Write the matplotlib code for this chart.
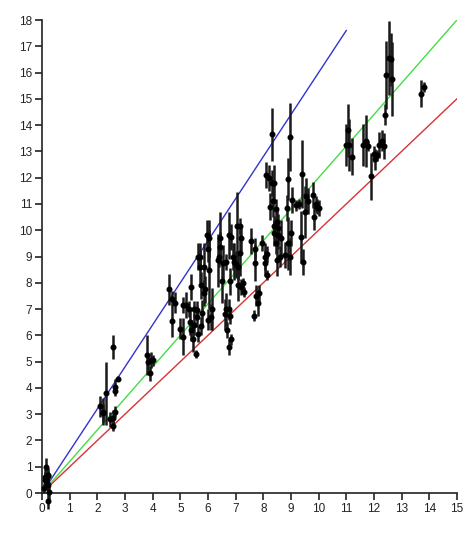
import matplotlib
matplotlib.use('Agg')
import matplotlib.pyplot as plt
import numpy as np

# measured points: x, y, y error (half length)
x_pts = [0.10, 0.15, 0.12, 0.20, 0.18, 0.22, 0.08, 0.25, 0.20, 0.15, 0.22,
         2.10, 2.20, 2.30, 2.45, 2.55, 2.55, 2.55, 2.65, 2.65, 2.65, 2.75, 2.20,
         3.80, 3.85, 3.90, 3.95, 4.00,
         4.60, 4.70, 4.70, 4.80,
         5.00, 5.10, 5.10, 5.20, 5.30, 5.35, 5.40, 5.40, 5.45, 5.50, 5.50, 5.55,
         5.60, 5.60, 5.65, 5.70, 5.70, 5.75, 5.75, 5.80, 5.85, 5.85, 5.90, 5.95,
         6.00, 6.05, 6.05, 6.00, 6.10, 6.15, 5.65,
         6.35, 6.40, 6.45, 6.45, 6.50, 6.55, 6.60, 6.65, 6.65, 6.70, 6.75, 6.75,
         6.75, 6.80, 6.80, 6.85, 6.85, 6.90, 6.95, 7.00, 7.05, 7.10, 7.15, 7.10,
         7.15, 7.20, 7.20, 7.25, 7.30,
         7.55, 7.65, 7.70, 7.70, 7.75, 7.80, 7.85, 7.95, 8.05, 8.05, 8.10, 8.15, 8.15,
         8.20, 8.25, 8.30, 8.30, 8.35, 8.40, 8.40, 8.45, 8.45, 8.50, 8.50, 8.55,
         8.60, 8.65, 8.40, 8.55,
         8.80, 8.85, 8.90, 8.95, 8.90, 8.95, 9.00, 9.05, 9.20, 9.30, 9.35, 9.40,
         9.45, 9.50, 9.55, 9.60,
         9.80, 9.85, 9.90, 9.95, 10.00,
         11.00, 11.05, 11.10, 11.20,
         11.60, 11.70, 11.80, 11.90, 12.00, 12.05, 12.10, 12.20, 12.30, 12.35,
         12.40, 12.45, 12.55, 12.60, 12.65,
         13.70, 13.80]
y_pts = [0.50, 1.00, 0.60, 0.70, 0.40, 0.30, 0.20, 0.05, -0.30, 0.55, 0.65,
         3.30, 3.10, 3.80, 2.80, 2.55, 2.85, 5.55, 4.05, 3.90, 3.10, 4.35, 3.05,
         5.25, 5.00, 4.55, 5.05, 5.05,
         7.75, 7.40, 6.55, 7.25,
         6.25, 5.95, 7.15, 7.15, 7.00, 6.50, 7.85, 6.20, 5.85, 6.40, 7.00, 5.30,
         6.70, 6.95, 6.05, 8.60, 9.00, 7.90, 6.35, 6.85, 7.60, 8.60, 7.75, 9.80,
         9.30, 8.50, 9.70, 6.60, 6.70, 7.00, 9.00,
         8.85, 9.00, 9.35, 9.70, 8.05, 8.75, 6.80, 7.00, 8.80, 6.20, 9.80, 5.55,
         7.00, 6.75, 8.05, 9.75, 5.85, 9.00, 8.80, 8.70, 10.15, 8.60, 9.15, 7.90,
         10.15, 9.70, 7.85, 8.00, 7.65,
         9.60, 6.75, 8.75, 9.30, 7.50, 7.25, 7.60, 9.50, 8.75, 9.00, 12.10, 8.30, 9.10,
         12.00, 10.90, 13.65, 11.80, 11.10, 11.80, 9.90, 10.80, 9.50, 10.30, 8.85, 10.10,
         9.00, 9.70, 10.15, 9.80,
         9.05, 10.85, 9.50, 9.00, 11.95, 13.55, 9.90, 11.15, 10.95, 11.00, 9.75, 12.15,
         8.80, 10.70, 11.30, 11.10,
         11.35, 10.50, 11.00, 10.90, 10.85,
         13.25, 13.80, 13.25, 12.80,
         13.25, 13.40, 13.20, 12.05, 12.90, 12.70, 12.85, 13.25, 13.40, 13.20,
         14.40, 15.90, 16.55, 16.50, 15.75,
         15.20, 15.45]
y_err = [0.30, 0.35, 0.30, 0.25, 0.30, 0.30, 0.20, 0.30, 0.30, 0.20, 0.20,
         0.40, 0.50, 1.20, 0.30, 0.20, 0.30, 0.45, 0.30, 0.20, 0.20, 0.10, 0.35,
         0.75, 0.30, 0.30, 0.30, 0.20,
         0.60, 0.30, 0.60, 0.40,
         0.40, 0.70, 0.30, 0.50, 0.30, 0.50, 0.50, 0.40, 0.50, 0.40, 0.30, 0.15,
         0.40, 0.35, 0.30, 0.60, 0.50, 0.50, 0.35, 0.50, 0.50, 0.90, 0.50, 0.60,
         0.50, 1.50, 0.70, 0.40, 0.50, 0.80, 0.50,
         1.00, 0.40, 0.60, 1.00, 0.80, 0.70, 0.60, 0.60, 0.30, 0.30, 0.90, 0.30,
         0.40, 0.30, 0.50, 0.50, 0.20, 0.50, 0.70, 0.50, 1.30, 0.50, 0.90, 0.60,
         0.30, 0.50, 0.30, 0.20, 0.20,
         0.50, 0.20, 0.70, 0.40, 0.40, 0.50, 0.30, 0.30, 0.50, 0.50, 0.50, 0.20, 0.30,
         0.50, 0.50, 1.00, 0.50, 0.60, 0.70, 0.50, 0.40, 0.40, 0.60, 0.60, 0.50,
         0.40, 0.70, 0.40, 0.50,
         0.50, 0.50, 1.00, 0.70, 0.80, 1.30, 0.50, 0.50, 0.20, 0.20, 1.00, 1.30,
         0.50, 1.00, 0.70, 0.50,
         0.50, 0.50, 0.30, 0.30, 0.30,
         0.80, 1.00, 1.00, 0.70,
         0.80, 1.00, 0.20, 0.90, 0.30, 0.40, 0.20, 0.50, 0.40, 0.50,
         0.40, 1.30, 1.40, 1.00, 1.40,
         0.50, 0.20]

# reference lines y = k*x
slopes = [1.6, 1.2, 1.0]
x_ends = [11.0, 15.0, 15.0]
line_colors = ['#3333d0', '#44dd44', '#d83333']

plt.rcParams.update({'font.family': 'Liberation Sans', 'font.size': 8.5})

fig = plt.figure(figsize=(4.72, 5.5), dpi=100)
ax = fig.add_axes([0.089, 0.1036, 0.879, 0.86])

for k, xe, c in zip(slopes, x_ends, line_colors):
    xs = np.array([0.0, xe])
    ax.plot(xs, k * xs, color=c, linewidth=1.0, zorder=2)

ax.errorbar(x_pts, y_pts, yerr=y_err, fmt='o', color='black', ecolor='#1a1a1a',
            markersize=3.3, elinewidth=1.8, capsize=0, zorder=3, clip_on=False)

ax.set_xlim(0, 15)
ax.set_ylim(0, 18)
ax.set_xticks(np.arange(0, 16, 1))
ax.set_yticks(np.arange(0, 19, 1))
ax.spines['top'].set_visible(False)
ax.spines['right'].set_visible(False)
for s in ['left', 'bottom']:
    ax.spines[s].set_linewidth(1.2)
    ax.spines[s].set_color('#222222')
ax.tick_params(direction='out', length=5, width=1.2, colors='#222222', pad=2)

fig.savefig('out.png', dpi=100)
